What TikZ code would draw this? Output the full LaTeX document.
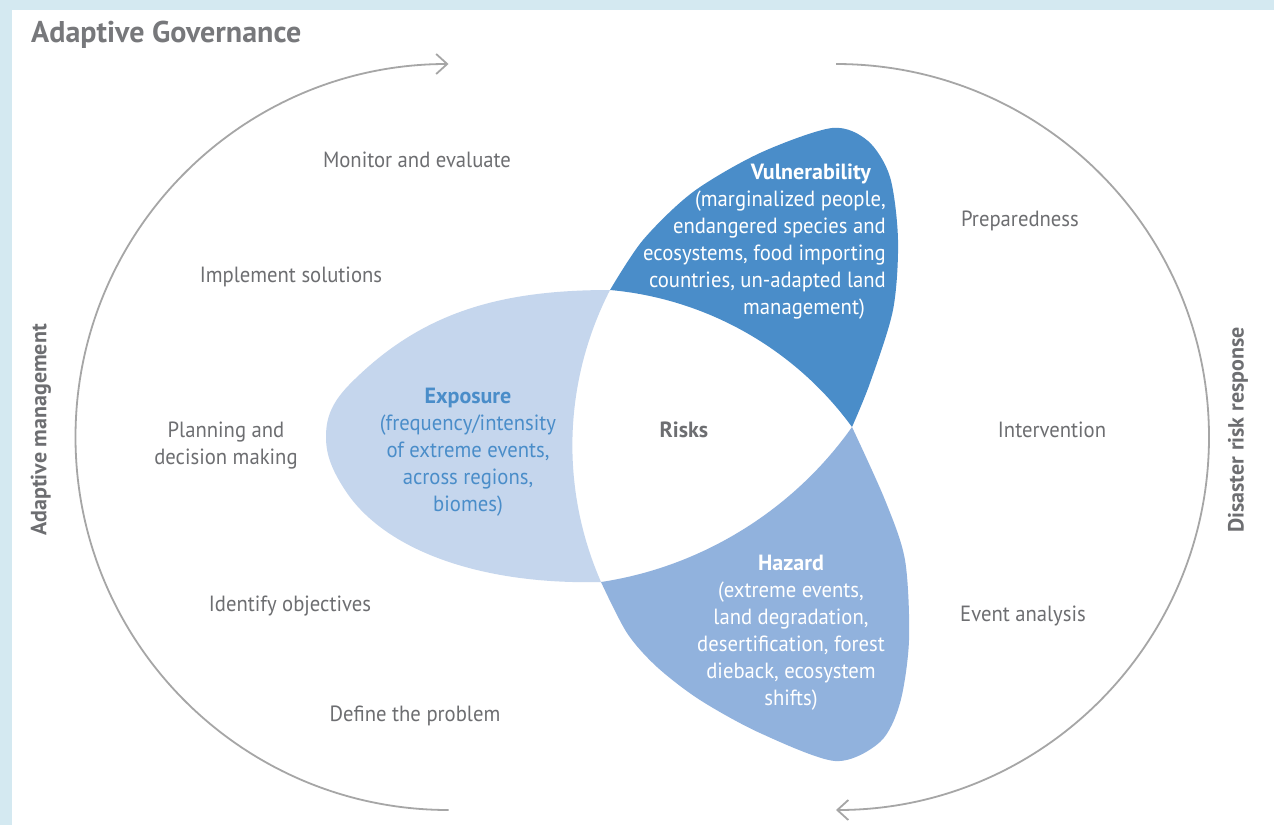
\documentclass[tikz,border=0pt]{standalone}
\usepackage{fontspec}
\setmainfont{PT Sans}[FakeStretch=0.94]
\newfontfamily\widefont{PT Sans}
\usetikzlibrary{arrows.meta}
\definecolor{frameblue}{RGB}{212,233,241}
\definecolor{txtgray}{RGB}{109,110,113}
\definecolor{titlegray}{RGB}{119,120,123}
\definecolor{arcgray}{RGB}{166,166,166}
\definecolor{vulblue}{RGB}{74,141,201}
\definecolor{hazblue}{RGB}{145,178,221}
\definecolor{expblue}{RGB}{197,214,237}
\newcommand\headtxt[1]{{\widefont\bfseries #1}}
\begin{document}
\begin{tikzpicture}[x=1pt,y=-1pt,
  lbl/.style={text=txtgray,font=\fontsize{22}{27}\selectfont,inner sep=0pt,anchor=base},
  side/.style={text=txtgray,font=\widefont\bfseries\fontsize{22}{27}\selectfont,inner sep=0pt,rotate=90},
  cyc/.style={draw=arcgray,line width=1.8pt,-{Straight Barb[length=11pt,width=20pt,line width=1.8pt]}},
  ptext/.style={font=\fontsize{22}{27}\selectfont,inner sep=0pt}
]
\useasboundingbox (0,0) rectangle (1274,825);
\fill[frameblue] (0,0) rectangle (1274,825);
\fill[white] (12,10) rectangle (1274,825);

% petals
\fill[expblue] (610,290) .. controls (500,290) and (420,312) .. (348,386)
  .. controls (330,405) and (326,420) .. (326,437)
  .. controls (326,455) and (332,470) .. (345,490)
  .. controls (384,550) and (480,585) .. (601,582)
  .. controls (559.9,488) and (563.2,381.3) .. cycle;
\fill[vulblue] plot[smooth,tension=0.5] coordinates {(610,290) (643,240) (693,192) (760,153) (832,128) (868,141) (890,177) (898,240) (893,310) (870,383) (852,427)} .. controls (795.1,348.8) and (706.3,298.6) .. cycle;
\fill[hazblue] plot[smooth,tension=0.5] coordinates {(601,582) (627,633) (657,667) (700,700) (760,733) (835,761) (880,742) (900,703) (909,640) (905,560) (885,500) (852,427)} .. controls (793.4,510.1) and (701.6,566.9) .. cycle;

% cycle arrows
\coordinate (Lbot) at (448.5,810);
\coordinate (Ltop) at (448.5,64);
\coordinate (Rtop) at (836,64);
\coordinate (Rbot) at (836,810);
\draw[cyc] (Lbot) .. controls (242.5,810) and (75.5,643) .. (75.5,437) .. controls (75.5,231) and (242.5,64) .. (Ltop);
\draw[cyc] (Rtop) .. controls (1042,64) and (1209,231) .. (1209,437) .. controls (1209,643) and (1042,810) .. (Rbot);

% title
\node[text=titlegray,font=\widefont\bfseries\fontsize{30}{36}\selectfont,anchor=base west,inner sep=0pt] (title) at (31,42) {Adaptive Governance};

% left steps
\node[lbl] (mon) at (417,167) {Monitor and evaluate};
\node[lbl] (imp) at (291,282) {Implement solutions};
\node[lbl,align=center,anchor=center] (plan) at (226,446) {Planning and\\decision making};
\node[lbl] (idf) at (290,611) {Identify objectives};
\node[lbl] (def) at (415,721) {Define the problem};
% right steps
\node[lbl] (prep) at (1020,226) {Preparedness};
\node[lbl] (intv) at (1052,437) {Intervention};
\node[lbl] (evt) at (1023,621) {Event analysis};
% side labels
\node[side] (am) at (41,430) {Adaptive management};
\node[side] (drr) at (1238,430) {Disaster risk response};
% centre
\node[lbl,font=\widefont\bfseries\fontsize{22}{27}\selectfont] (risks) at (684,437) {Risks};
% petal texts
\node[ptext,text=vulblue,align=center] (exp) at (468,452.5) {\headtxt{Exposure}\\(frequency/intensity\\of extreme events,\\across regions,\\biomes)};
\node[ptext,text=white,align=right,anchor=east] (vul) at (886,242) {\headtxt{Vulnerability}\hspace*{15pt}\\(marginalized people,\\endangered species and\\ecosystems, food importing\\countries, un-adapted land\hspace*{12pt}\\management)\hspace*{21pt}};
\node[ptext,text=white,align=center] (haz) at (791,632.5) {\headtxt{Hazard}\\(extreme events,\\land degradation,\\desertification, forest\\dieback, ecosystem\\shifts)};
\end{tikzpicture}
\end{document}
